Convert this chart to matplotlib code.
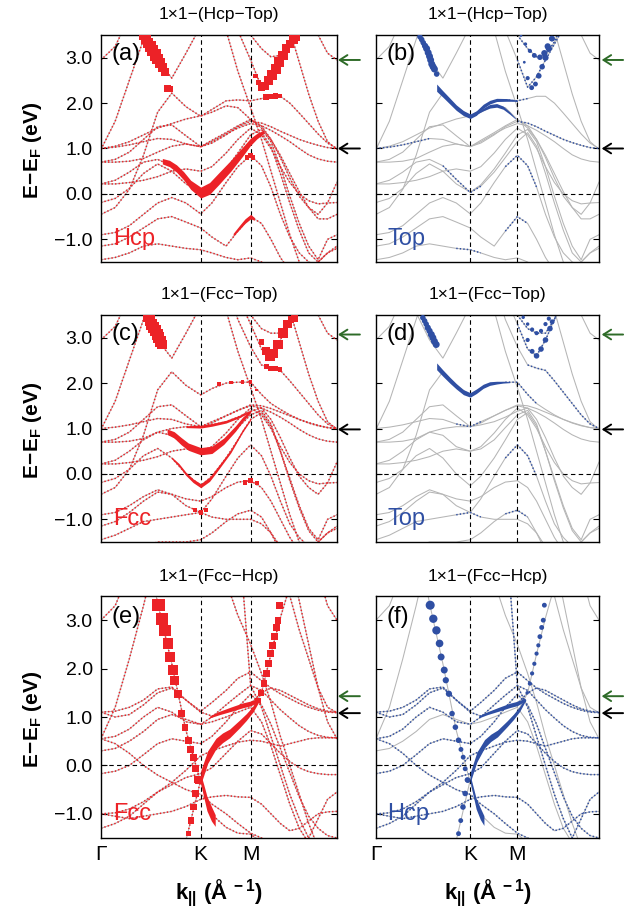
import matplotlib
matplotlib.use('Agg')
import matplotlib.pyplot as plt
import numpy as np

plt.rcParams['font.family'] = ['Liberation Sans', 'DejaVu Sans']
plt.rcParams['mathtext.fontset'] = 'custom'
plt.rcParams['mathtext.rm'] = 'Liberation Sans'
plt.rcParams['mathtext.bf'] = 'Liberation Sans:bold'
plt.rcParams['mathtext.it'] = 'Liberation Sans:italic'
plt.rcParams['mathtext.sf'] = 'Liberation Sans'

# ---------------- k path (fraction of Γ-K-M-Γ path) ----------------
KPTS = [0.0, 0.06, 0.12, 0.18, 0.24, 0.30, 0.36, 0.4226, 0.47, 0.53, 0.58,
        0.634, 0.68, 0.72, 0.76, 0.80, 0.84, 0.88, 0.92, 0.96, 1.0]
HSP_POS = [0.0, 0.4226, 0.634]
HSP_LABELS = ['Γ', 'K', 'M']
YTICKS = [-1.0, 0.0, 1.0, 2.0, 3.0]

# ---------------- band energies (eV) : 1x1-(Hcp-Top) ----------------
BANDS_HT = [
    [2.95, 3.25, 3.9, 4.6, 5, 5, 5, 5, 5, 5, 5, 5, 5, 5, 5, 5, 4.6, 4.0, 3.5, 3.1, 2.95],
    [0.98, 1.6, 2.5, 3.4, 4.3, 5, 5, 5, 5, 5, 5, 5, 5, 5, 4.4, 3.6, 2.9, 2.2, 1.6, 1.15, 0.98],
    [-0.45, -0.3, 0.1, 0.85, 1.8, 2.22, 1.92, 1.71, 1.86, 2.05, 2.07, 2.05, 2.1, 2.15, 2.15, 2.0, 1.78, 1.55, 1.32, 1.12, 1.0],
    [1.0, 1.03, 1.08, 1.15, 1.22, 1.2, 1.1, 1.04, 1.12, 1.3, 1.48, 1.6, 1.56, 1.48, 1.38, 1.29, 1.2, 1.13, 1.07, 1.02, 1.0],
    [0.70, 0.76, 0.92, 1.2, 1.48, 1.52, 1.28, 1.04, 1.15, 1.32, 1.45, 1.55, 1.5, 1.4, 1.28, 1.15, 1.0, 0.86, 0.77, 0.72, 0.70],
    [0.22, 0.3, 0.48, 0.7, 0.76, 0.62, 0.32, 0.03, 0.17, 0.48, 0.8, 1.15, 1.35, 1.05, 0.45, -0.2, -0.8, -1.3, -1.5, -1.3, -1.15],
    [-0.19, -0.1, 0.12, 0.45, 0.66, 0.5, 0.22, 0.04, 0.2, 0.55, 0.9, 1.3, 1.42, 1.15, 0.6, -0.05, -0.65, -1.15, -1.45, -1.0, -0.9],
    [-0.9, -0.85, -0.7, -0.45, -0.2, -0.08, -0.2, -0.44, -0.2, 0.25, 0.6, 0.85, 0.62, 0.15, -0.45, -0.95, -1.3, -1.5, -1.6, -1.6, -1.6],
    [-1.15, -1.1, -0.95, -0.75, -0.55, -0.5, -0.62, -0.75, -0.95, -1.15, -0.82, -0.5, -0.65, -1.0, -1.4, -1.7, -1.8, -1.7, -1.5, -1.3, -1.2],
    [-1.45, -1.4, -1.3, -1.15, -1.1, -1.15, -1.2, -1.23, -1.3, -1.4, -1.45, -1.41, -1.5, -1.7, -1.9, -2, -2, -2, -2, -2, -2],
    [0.7, 0.7, 0.72, 0.78, 0.92, 1.05, 1.1, 1.04, 1.18, 1.35, 1.5, 1.64, 1.5, 1.2, 0.8, 0.35, -0.05, -0.3, -0.45, -0.2, 0.26],
    [0.22, 0.22, 0.25, 0.3, 0.38, 0.5, 0.55, 0.5, 0.6, 0.9, 1.2, 1.45, 1.3, 1.0, 0.6, 0.25, 0.0, -0.15, -0.22, -0.2, -0.19],
    [5, 5, 5, 5, 5, 5, 5, 5, 5, 4.5, 3.6, 2.95, 2.35, 2.58, 2.95, 3.3, 3.65, 4.1, 5, 5, 5],
    [5, 5, 5, 5, 5, 5, 5, 5, 5, 5, 4.3, 3.5, 3.2, 3.02, 3.05, 3.35, 3.8, 4.4, 5, 5, 5],
    [5, 5, 4.6, 3.55, 2.95, 2.55, 3.1, 3.7, 4.3, 5, 5, 5, 5, 5, 5, 5, 5, 5, 5, 5, 5],
    [5, 5, 5, 5, 5, 5, 5, 5, 4.5, 3.6, 2.7, 1.9, 1.2, 0.5, -0.2, -0.9, -1.5, -2, -2, -2, -2],
    [1.0, 1.05, 1.15, 1.3, 1.45, 1.55, 1.65, 1.72, 1.8, 1.94, 1.9, 1.64, 1.45, 1.2, 0.85, 0.45, 0.05, -0.3, -0.55, -0.55, -0.45],
]

# ---------------- band energies (eV) : 1x1-(Fcc-Top) ----------------
BANDS_FT = [
    [2.95, 3.25, 3.9, 4.6, 5, 5, 5, 5, 5, 5, 5, 5, 5, 5, 5, 5, 4.6, 4.0, 3.5, 3.1, 2.95],
    [0.98, 1.6, 2.5, 3.4, 4.3, 5, 5, 5, 5, 5, 5, 5, 5, 5, 4.4, 3.6, 2.9, 2.2, 1.6, 1.15, 0.98],
    [-0.45, -0.3, 0.1, 0.85, 1.85, 2.25, 1.95, 1.74, 1.88, 2.0, 2.02, 2.02, 1.75, 1.55, 1.42, 1.3, 1.2, 1.12, 1.06, 1.02, 1.0],
    [1.0, 1.03, 1.08, 1.15, 1.22, 1.2, 1.1, 1.04, 1.15, 1.28, 1.4, 1.52, 1.5, 1.44, 1.36, 1.28, 1.2, 1.13, 1.07, 1.02, 1.0],
    [0.70, 0.76, 0.92, 1.2, 1.48, 1.52, 1.28, 1.04, 1.12, 1.28, 1.4, 1.5, 1.45, 1.36, 1.25, 1.12, 0.98, 0.86, 0.77, 0.72, 0.70],
    [0.22, 0.3, 0.5, 0.75, 0.92, 0.85, 0.6, 0.5, 0.55, 0.75, 1.02, 1.3, 1.4, 1.1, 0.5, -0.15, -0.75, -1.25, -1.5, -1.3, -1.15],
    [-0.19, -0.1, 0.1, 0.4, 0.56, 0.35, 0.0, -0.26, -0.05, 0.35, 0.75, 1.2, 1.35, 1.05, 0.5, -0.1, -0.7, -1.2, -1.45, -1.0, -0.9],
    [-0.9, -0.85, -0.7, -0.5, -0.35, -0.45, -0.7, -0.85, -0.55, -0.05, 0.35, 0.64, 0.4, -0.05, -0.6, -1.1, -1.4, -1.6, -1.6, -1.6, -1.6],
    [-1.15, -1.05, -0.85, -0.6, -0.4, -0.45, -0.55, -0.6, -0.5, -0.3, -0.18, -0.15, -0.3, -0.6, -1.0, -1.4, -1.7, -1.7, -1.5, -1.3, -1.2],
    [-1.45, -1.35, -1.2, -1.05, -1.0, -0.95, -0.9, -0.85, -0.95, -1.0, -1.0, -1.0, -1.1, -1.3, -1.6, -2, -2, -2, -2, -2, -2],
    [-2, -2, -1.8, -1.6, -1.5, -1.5, -1.5, -1.45, -1.3, -1.05, -0.88, -0.8, -0.95, -1.3, -1.7, -2, -2, -2, -2, -2, -2],
    [0.7, 0.7, 0.72, 0.78, 0.92, 1.0, 1.04, 1.04, 1.08, 1.15, 1.25, 1.38, 1.45, 1.2, 0.8, 0.35, -0.05, -0.3, -0.45, -0.2, 0.26],
    [0.22, 0.22, 0.25, 0.3, 0.38, 0.5, 0.55, 0.5, 0.6, 0.9, 1.2, 1.45, 1.3, 1.0, 0.6, 0.25, 0.0, -0.15, -0.22, -0.2, -0.19],
    [5, 5, 5, 5, 5, 5, 5, 5, 5, 4.6, 3.9, 3.3, 2.75, 2.6, 2.95, 3.4, 3.9, 4.4, 5, 5, 5],
    [5, 5, 5, 5, 5, 5, 5, 5, 5, 5, 4.3, 3.5, 3.2, 3.1, 3.1, 3.4, 3.9, 4.4, 5, 5, 5],
    [5, 5, 4.6, 3.55, 2.95, 2.55, 3.1, 3.7, 4.3, 5, 5, 5, 5, 5, 5, 5, 5, 5, 5, 5, 5],
    [5, 5, 5, 5, 5, 5, 5, 5, 4.5, 3.6, 2.7, 1.9, 1.2, 0.5, -0.2, -0.9, -1.5, -2, -2, -2, -2],
    [5, 5, 5, 5, 5, 5, 5, 5, 5, 4.2, 3.4, 2.8, 2.4, 2.33, 2.28, 2.05, 1.8, 1.55, 1.3, 1.1, 1.0],
]

# ---------------- band energies (eV) : 1x1-(Fcc-Hcp) ----------------
BANDS_FH = [
    [5, 5, 5, 4.8, 3.35, 2.1, 0.72, -0.35, -1.02, -1.28, -1.4, -1.42, -1.6, -2, -2, -2, -2, -2, -2, -2, -2],
    [-3, -3, -3, -3, -3, -2.8, -1.55, -0.3, 0.3, 0.62, 0.83, 1.1, 1.5, 2.3, 3.05, 3.7, 4.5, 5, 5, 5, 5],
    [1.1, 1.0, 1.05, 1.25, 1.5, 1.6, 1.35, 1.1, 1.02, 1.12, 1.2, 1.28, 1.5, 1.6, 1.55, 1.45, 1.35, 1.25, 1.17, 1.12, 1.1],
    [1.1, 1.12, 1.2, 1.35, 1.58, 1.62, 1.35, 1.12, 1.3, 1.55, 1.8, 1.93, 1.75, 1.6, 1.48, 1.38, 1.28, 1.2, 1.14, 1.1, 1.09],
    [0.55, 0.6, 0.75, 1.0, 1.2, 1.1, 0.9, 0.85, 1.0, 1.25, 1.45, 1.65, 1.55, 1.35, 1.15, 0.98, 0.82, 0.7, 0.62, 0.58, 0.57],
    [-0.17, -0.12, 0.0, 0.22, 0.45, 0.55, 0.5, 0.45, 0.6, 0.9, 1.2, 1.47, 1.25, 0.85, 0.35, -0.15, -0.65, -1.05, -1.3, -1.45, -1.5],
    [-1.0, -0.98, -0.9, -0.75, -0.55, -0.4, -0.25, -0.17, -0.05, 0.25, 0.5, 0.72, 0.65, 0.45, 0.25, 0.08, -0.05, -0.13, -0.17, -0.19, -0.19],
    [-1.3, -1.2, -1.05, -0.8, -0.55, -0.35, -0.1, 0.2, 0.3, 0.4, 0.48, 0.52, 0.5, 0.45, 0.4, 0.45, 0.5, 0.55, 0.57, 0.57, 0.57],
    [-1.0, -1.05, -1.1, -1.05, -1.0, -0.95, -0.85, -0.7, -0.65, -0.62, -0.65, -0.66, -0.8, -1.0, -1.2, -1.35, -1.3, -1.15, -1.0, -0.96, -0.95],
    [0.55, 0.45, 0.25, 0.0, -0.2, -0.35, -0.5, -0.6, -0.8, -1.0, -1.2, -1.4, -1.5, -1.6, -1.7, -1.8, -1.7, -1.5, -1.1, -0.7, -0.55],
    [3.0, 3.3, 4.0, 5, 5, 5, 5, 5, 5, 5, 5, 5, 5, 5, 5, 5, 5, 5, 4.0, 3.3, 3.0],
    [0.55, 1.2, 2.2, 3.3, 4.5, 5, 5, 5, 5, 5, 5, 5, 5, 5, 5, 4.3, 3.4, 2.5, 1.6, 0.9, 0.55],
    [5, 5, 5, 5, 5, 5, 5, 5, 4.6, 3.8, 3.1, 2.5, 1.9, 1.3, 0.6, 0.0, -0.6, -1.2, -1.7, -2, -2],
    [5, 5, 5, 5, 5, 5, 5, 5, 5, 5, 5, 5, 5, 4.8, 4.2, 3.5, 2.8, 2.2, 1.6, 1.2, 1.09],
    [5, 5, 5, 5, 5, 5, 5, 5, 5, 5, 5, 1.65, 1.2, 0.6, 0.0, -0.6, -1.1, -1.5, -1.7, -2, -2],
    [0.3, 0.35, 0.5, 0.7, 0.95, 1.05, 0.95, 0.85, 0.9, 1.0, 1.1, 1.2, 0.9, 0.4, -0.2, -0.8, -1.3, -1.6, -1.8, -2, -2],
]

# ---------------- fat-band weights (projections) ----------------
# panel (a): Hcp projection on Hcp-Top
A_RIB_K = [0.26, 0.29, 0.32, 0.35, 0.38, 0.4226, 0.46, 0.50, 0.55, 0.60, 0.634, 0.66, 0.69]
A_RIB_E = [0.72, 0.67, 0.56, 0.40, 0.20, 0.03, 0.12, 0.34, 0.62, 0.93, 1.15, 1.27, 1.37]
A_RIB_W = [0.06, 0.07, 0.08, 0.09, 0.10, 0.12, 0.13, 0.13, 0.12, 0.10, 0.08, 0.06, 0.04]
A_LOW_K = [0.56, 0.59, 0.61, 0.634, 0.65]
A_LOW_E = [-0.9, -0.72, -0.6, -0.5, -0.55]
A_LOW_W = [0.03, 0.045, 0.05, 0.05, 0.03]
A_STEEP_K = [0.18, 0.19, 0.20, 0.21, 0.22, 0.23, 0.24, 0.25, 0.26, 0.27, 0.282, 0.29]
A_STEEP_E = [3.5, 3.41, 3.33, 3.25, 3.16, 3.06, 2.97, 2.88, 2.78, 2.69, 2.33, 2.31]
A_STEEP_S = [7, 7, 7.5, 8, 8, 8, 7.5, 7, 6.5, 5.5, 5, 4.5]
A_V_K = [0.655, 0.668, 0.681, 0.695, 0.71, 0.725, 0.74, 0.755, 0.77, 0.785, 0.80, 0.815, 0.83]
A_V_E = [2.6, 2.45, 2.35, 2.38, 2.5, 2.62, 2.75, 2.9, 3.05, 3.2, 3.3, 3.4, 3.45]
A_V_S = [3, 4, 5, 6, 6, 7, 7, 7, 7, 6, 6, 6, 5]
A_SS_K = [0.70, 0.72, 0.74, 0.76, 0.62, 0.634, 0.645]
A_SS_E = [2.13, 2.15, 2.16, 2.15, 0.8, 0.85, 0.8]
A_SS_S = [4, 4, 4, 3, 3, 3.5, 3]

# panel (b): Top projection on Hcp-Top
B_RIB_K = [0.272, 0.30, 0.332, 0.36, 0.392, 0.4226, 0.45, 0.481, 0.51, 0.541, 0.586, 0.616, 0.634]
B_RIB_E = [2.34, 2.2, 2.04, 1.9, 1.78, 1.71, 1.78, 1.93, 2.02, 2.07, 2.07, 2.06, 2.05]
B_RIB_W = [0.08, 0.07, 0.065, 0.06, 0.055, 0.05, 0.05, 0.045, 0.04, 0.035, 0.03, 0.02, 0.015]
B_RIB2_K = [0.45, 0.481, 0.51, 0.541, 0.57, 0.60, 0.625]
B_RIB2_E = [1.76, 1.86, 1.93, 1.95, 1.9, 1.78, 1.66]
B_RIB2_W = [0.01, 0.03, 0.04, 0.04, 0.035, 0.025, 0.01]
B_STEEP_K = [0.197, 0.205, 0.212, 0.22, 0.227, 0.234, 0.24, 0.245, 0.25, 0.256, 0.262, 0.272]
B_STEEP_E = [3.46, 3.4, 3.33, 3.26, 3.2, 3.11, 3.03, 2.95, 2.86, 2.8, 2.75, 2.64]
B_STEEP_S = [4, 4, 4, 4.5, 5, 5, 5, 5, 5, 5, 5, 4]
B_V1_K = [0.665, 0.68, 0.698, 0.715, 0.73, 0.745, 0.76, 0.775, 0.79]
B_V1_E = [2.9, 2.55, 2.34, 2.42, 2.6, 2.8, 3.0, 3.2, 3.42]
B_V1_S = [2, 3, 3.5, 3.5, 4, 4, 4.5, 4.5, 4]
B_V2_K = [0.65, 0.67, 0.69, 0.71, 0.735, 0.755, 0.77, 0.788]
B_V2_E = [3.49, 3.3, 3.15, 3.05, 3.01, 3.1, 3.25, 3.42]
B_V2_S = [2, 2.5, 3, 3.5, 4, 4.5, 4.5, 4]

# panel (c): Fcc projection on Fcc-Top
C_STEEP_K = [0.20, 0.208, 0.215, 0.222, 0.23, 0.238, 0.245, 0.252, 0.26]
C_STEEP_E = [3.45, 3.38, 3.3, 3.22, 3.15, 3.08, 3.0, 2.92, 2.85]
C_STEEP_S = [7, 7.5, 8, 8, 8, 8, 8, 7.5, 7]
C_U_K = [0.28, 0.31, 0.34, 0.37, 0.4226, 0.47, 0.52, 0.57, 0.60, 0.634]
C_U_E = [0.93, 0.86, 0.72, 0.6, 0.5, 0.53, 0.72, 1.0, 1.2, 1.38]
C_U_W = [0.06, 0.07, 0.08, 0.08, 0.08, 0.08, 0.07, 0.06, 0.05, 0.03]
C_VV_K = [0.30, 0.33, 0.36, 0.39, 0.4226, 0.46, 0.50, 0.55, 0.60, 0.634]
C_VV_E = [0.35, 0.2, 0.0, -0.15, -0.26, -0.12, 0.15, 0.5, 0.95, 1.2]
C_VV_W = [0.02, 0.03, 0.035, 0.04, 0.045, 0.045, 0.04, 0.035, 0.03, 0.02]
C_K1_K = [0.36, 0.4226, 0.47, 0.53, 0.58, 0.634]
C_K1_E = [1.04, 1.04, 1.08, 1.15, 1.25, 1.38]
C_K1_W = [0.02, 0.03, 0.03, 0.03, 0.025, 0.02]
C_PTS_K = [0.5, 0.55, 0.60, 0.634, 0.66, 0.70, 0.72, 0.74, 0.76, 0.61, 0.634, 0.66, 0.40, 0.4226, 0.445]
C_PTS_E = [1.98, 2.01, 2.02, 2.02, 1.85, 2.36, 2.33, 2.32, 2.3, -0.18, -0.15, -0.2, -0.8, -0.85, -0.8]
C_PTS_S = [2.5, 2.5, 2.5, 2.5, 2, 3.5, 3.5, 3.5, 3, 3.5, 3.5, 3, 3, 3, 3]
C_V_K = [0.68, 0.70, 0.716, 0.73, 0.75, 0.77, 0.79, 0.805, 0.82]
C_V_E = [2.9, 2.7, 2.6, 2.65, 2.85, 3.1, 3.3, 3.4, 3.42]
C_V_S = [4, 6, 7, 7, 7, 7, 6, 5, 5]

# panel (d): Top projection on Fcc-Top
D_RIB_K = [0.272, 0.30, 0.332, 0.36, 0.392, 0.4226, 0.45, 0.481, 0.51, 0.541, 0.57, 0.60]
D_RIB_E = [2.37, 2.22, 2.06, 1.93, 1.8, 1.74, 1.82, 1.93, 1.99, 2.01, 2.02, 2.02]
D_RIB_W = [0.075, 0.07, 0.065, 0.06, 0.055, 0.05, 0.05, 0.045, 0.04, 0.03, 0.02, 0.01]
D_STEEP_K = [0.21, 0.218, 0.225, 0.232, 0.24, 0.248, 0.255, 0.262, 0.27]
D_STEEP_E = [3.44, 3.37, 3.3, 3.22, 3.15, 3.07, 3.0, 2.92, 2.85]
D_STEEP_S = [4, 4, 4, 4.5, 4.5, 5, 5, 5, 5]
D_V1_K = [0.68, 0.70, 0.72, 0.74, 0.76, 0.78, 0.79]
D_V1_E = [2.95, 2.7, 2.6, 2.75, 2.95, 3.2, 3.35]
D_V1_S = [3, 3.5, 4, 4, 4, 4, 3.5]
D_V2_K = [0.66, 0.68, 0.70, 0.72, 0.74, 0.76, 0.775]
D_V2_E = [3.45, 3.3, 3.18, 3.1, 3.15, 3.3, 3.42]
D_V2_S = [2.5, 2.5, 3, 3, 3, 3, 3]

# panels (e)/(f): Fcc-Hcp
EF_STEEP_K = [0.243, 0.257, 0.271, 0.285, 0.292, 0.306, 0.313, 0.327, 0.341, 0.356, 0.37, 0.381, 0.391, 0.40, 0.412]
EF_STEEP_E = [3.31, 3.03, 2.79, 2.52, 2.24, 1.97, 1.76, 1.48, 1.07, 0.79, 0.52, 0.33, 0.17, -0.07, -0.31]
E_STEEP_S = [9, 8.5, 8, 7.5, 7, 7, 6.5, 6, 5.5, 5, 5, 5, 5, 5, 5]
F_STEEP_S = [6.5, 6, 6, 5.5, 5, 5, 4.5, 4.5, 4, 4, 4, 3.5, 3.5, 3.5, 3.5]
EF_DOWN_K = [0.41, 0.40, 0.39, 0.38, 0.37]
EF_DOWN_E = [-0.3, -0.58, -0.86, -1.14, -1.41]
E_DOWN_S = [5, 5, 5, 4.5, 4]
F_DOWN_S = [4, 4, 4, 3.5, 3.5]
EF_RIB_K = [0.4226, 0.452, 0.487, 0.515, 0.545, 0.588, 0.616, 0.645, 0.666]
EF_RIB_E = [-0.25, 0.17, 0.45, 0.57, 0.66, 0.86, 1.0, 1.17, 1.34]
E_RIB_W = [0.14, 0.13, 0.11, 0.10, 0.09, 0.08, 0.07, 0.06, 0.05]
F_RIB_W = [0.10, 0.10, 0.085, 0.075, 0.07, 0.06, 0.055, 0.05, 0.04]
EF_BOT_K = [0.4226, 0.435, 0.449, 0.468, 0.484]
EF_BOT_E = [-0.28, -0.52, -0.79, -1.0, -1.14]
E_BOT_W = [0.10, 0.13, 0.15, 0.15, 0.12]
F_BOT_W = [0.07, 0.09, 0.11, 0.12, 0.10]
EF_UP_K = [0.46, 0.50, 0.55, 0.60, 0.634, 0.66]
EF_UP_E = [1.0, 1.08, 1.16, 1.24, 1.28, 1.34]
E_UP_W = [0.02, 0.035, 0.045, 0.05, 0.05, 0.04]
F_UP_W = [0.02, 0.03, 0.04, 0.045, 0.045, 0.035]
EF_RISE_K = [0.666, 0.678, 0.69, 0.70, 0.71, 0.72, 0.728, 0.735, 0.743, 0.75, 0.755]
EF_RISE_E = [1.34, 1.5, 1.69, 1.9, 2.1, 2.31, 2.48, 2.66, 2.85, 3.0, 3.31]
E_RISE_S = [4, 4.5, 4.5, 5, 5, 5, 5, 5, 5, 5, 5]
F_RISE_S = [2.5, 2.5, 3, 3, 3, 3, 3, 3.5, 3.5, 3.5, 3.5]

# which bands carry small dotted projection (band index, k from, k to)
DOTS_B = [(3, 0.0, 0.24), (3, 0.634, 1.0), (2, 0.58, 0.68), (7, 0.58, 0.72),
          (8, 0.58, 0.68), (9, 0.36, 0.47), (5, 0.30, 0.47), (12, 0.634, 0.88), (13, 0.634, 0.88)]
DOTS_D = [(17, 0.68, 1.0), (2, 0.58, 0.72), (7, 0.58, 0.72), (10, 0.58, 0.68),
          (9, 0.36, 0.47), (13, 0.634, 0.88), (14, 0.634, 0.88), (3, 0.36, 0.47)]
DOTS_F = [(i, 0.0, 1.0) for i in (2, 3, 4, 5, 6, 7, 8, 9, 14)]

RED = '#ec2227'
BLUE = '#2f4fa3'
GRAY = '#b5b5b5'
GREEN = '#2e6b28'

fig = plt.figure(figsize=(6.32, 9.17), dpi=100)
W, H = 632.0, 917.0
COLS = [(101, 236), (376, 223)]
ROWS = [(35, 227), (315, 227), (596, 242)]


def add_axes(col, row):
    x0, w = COLS[col]
    y0, h = ROWS[row]
    return fig.add_axes([x0 / W, 1 - (y0 + h) / H, w / W, h / H])


def ribbon(ax, k, e, w, color):
    e = np.array(e); w = np.array(w)
    ax.fill_between(k, e - w, e + w, color=color, lw=0, zorder=4)


def markers(ax, k, e, s, color, marker):
    ax.scatter(k, e, s=np.array(s) ** 2, marker=marker, color=color, lw=0, zorder=5)


panels = [
    dict(col=0, row=0, bands=BANDS_HT, color=RED, dots='all', tag='(a)', lab='Hcp',
         title='1×1−(Hcp−Top)', arrows=(2.95, 1.0)),
    dict(col=1, row=0, bands=BANDS_HT, color=BLUE, dots=DOTS_B, tag='(b)', lab='Top',
         title='1×1−(Hcp−Top)', arrows=(2.95, 1.0)),
    dict(col=0, row=1, bands=BANDS_FT, color=RED, dots='all', tag='(c)', lab='Fcc',
         title='1×1−(Fcc−Top)', arrows=(3.07, 0.98)),
    dict(col=1, row=1, bands=BANDS_FT, color=BLUE, dots=DOTS_D, tag='(d)', lab='Top',
         title='1×1−(Fcc−Top)', arrows=(3.07, 0.98)),
    dict(col=0, row=2, bands=BANDS_FH, color=RED, dots='all', tag='(e)', lab='Fcc',
         title='1×1−(Fcc−Hcp)', arrows=(1.43, 1.08)),
    dict(col=1, row=2, bands=BANDS_FH, color=BLUE, dots=DOTS_F, tag='(f)', lab='Hcp',
         title='1×1−(Fcc−Hcp)', arrows=(1.43, 1.08)),
]

axes = []
for p in panels:
    ax = add_axes(p['col'], p['row'])
    axes.append(ax)
    c = p['color']
    for b in p['bands']:
        ax.plot(KPTS, b, color=GRAY, lw=0.75, zorder=1)
    if p['dots'] == 'all':
        sel = [(i, 0.0, 1.0) for i in range(len(p['bands']))]
    else:
        sel = p['dots']
    for (i, k0, k1) in sel:
        idx = [j for j, kk in enumerate(KPTS) if k0 - 1e-6 <= kk <= k1 + 1e-6]
        ax.plot([KPTS[j] for j in idx], [p['bands'][i][j] for j in idx], color=c,
                lw=1.1, ls=(0, (0.9, 1.4)), zorder=2)
    ax.axvline(HSP_POS[1], color='black', lw=0.8, ls=(0, (4, 3)), zorder=3)
    ax.axvline(HSP_POS[2], color='black', lw=0.8, ls=(0, (4, 3)), zorder=3)
    ax.axhline(0.0, color='black', lw=0.8, ls=(0, (4, 3)), zorder=3)
    ax.set_xlim(0, 1)
    ax.set_ylim(-1.5, 3.5)
    ax.set_yticks(YTICKS)
    ax.tick_params(axis='y', direction='in', right=True, length=4, width=0.8,
                   labelsize=14, pad=6)
    if p['col'] == 1:
        ax.tick_params(axis='y', labelleft=False)
    else:
        ax.set_yticklabels([f'{v:.1f}'.replace('-', '\u2212') for v in YTICKS])
        ax.set_ylabel(r'$\mathbf{E\!-\!E_{F}}$ $\mathbf{(eV)}$', fontsize=15)
        ax.yaxis.set_label_coords(-0.242, 0.49)
    if p['row'] == 2:
        ax.set_xticks(HSP_POS)
        ax.set_xticklabels(HSP_LABELS, fontsize=15)
        ax.tick_params(axis='x', length=0, pad=5)
        ax.text(0.5, -0.225, r'$\mathbf{k_{||}}$ $\mathbf{(\AA^{\ -1})}$', transform=ax.transAxes,
                ha='center', va='center', fontsize=16)
    else:
        ax.set_xticks([])
    for s in ax.spines.values():
        s.set_linewidth(1.0)
    h = ROWS[p['row']][1]
    ax.text(0.5, 1 + 20.0 / h, p['title'], transform=ax.transAxes, ha='center',
            va='center', fontsize=12.5)
    ax.text(0.045, 0.915, p['tag'], transform=ax.transAxes, ha='left', va='center',
            fontsize=17, zorder=6)
    ax.text(0.05, 0.10, p['lab'], transform=ax.transAxes, ha='left', va='center',
            fontsize=17, color=c, zorder=6)
    # arrows
    x_head = 1.004 if p['col'] == 0 else 1.012
    x_tail = 1.097 if p['col'] == 0 else 1.108
    for yv, ac in zip(p['arrows'], (GREEN, 'black')):
        ax.annotate('', xy=(x_head, yv), xycoords=ax.get_yaxis_transform(),
                    xytext=(x_tail, yv), textcoords=ax.get_yaxis_transform(),
                    arrowprops=dict(arrowstyle='->,head_length=0.55,head_width=0.35',
                                    color=ac, lw=1.4, shrinkA=0, shrinkB=0),
                    annotation_clip=False)

ax_a, ax_b, ax_c, ax_d, ax_e, ax_f = axes

# (a)
ribbon(ax_a, A_RIB_K, A_RIB_E, A_RIB_W, RED)
ribbon(ax_a, A_LOW_K, A_LOW_E, A_LOW_W, RED)
markers(ax_a, A_STEEP_K, A_STEEP_E, A_STEEP_S, RED, 's')
markers(ax_a, A_V_K, A_V_E, A_V_S, RED, 's')
markers(ax_a, A_SS_K, A_SS_E, A_SS_S, RED, 's')
# (b)
ribbon(ax_b, B_RIB_K, B_RIB_E, B_RIB_W, BLUE)
ribbon(ax_b, B_RIB2_K, B_RIB2_E, B_RIB2_W, BLUE)
markers(ax_b, B_STEEP_K, B_STEEP_E, B_STEEP_S, BLUE, 'o')
markers(ax_b, B_V1_K, B_V1_E, B_V1_S, BLUE, 'o')
markers(ax_b, B_V2_K, B_V2_E, B_V2_S, BLUE, 'o')
# (c)
markers(ax_c, C_STEEP_K, C_STEEP_E, C_STEEP_S, RED, 's')
ribbon(ax_c, C_U_K, C_U_E, C_U_W, RED)
ribbon(ax_c, C_VV_K, C_VV_E, C_VV_W, RED)
ribbon(ax_c, C_K1_K, C_K1_E, C_K1_W, RED)
markers(ax_c, C_PTS_K, C_PTS_E, C_PTS_S, RED, 's')
markers(ax_c, C_V_K, C_V_E, C_V_S, RED, 's')
# (d)
ribbon(ax_d, D_RIB_K, D_RIB_E, D_RIB_W, BLUE)
markers(ax_d, D_STEEP_K, D_STEEP_E, D_STEEP_S, BLUE, 'o')
markers(ax_d, D_V1_K, D_V1_E, D_V1_S, BLUE, 'o')
markers(ax_d, D_V2_K, D_V2_E, D_V2_S, BLUE, 'o')
# (e)
markers(ax_e, EF_STEEP_K, EF_STEEP_E, E_STEEP_S, RED, 's')
markers(ax_e, EF_DOWN_K, EF_DOWN_E, E_DOWN_S, RED, 's')
ribbon(ax_e, EF_RIB_K, EF_RIB_E, E_RIB_W, RED)
ribbon(ax_e, EF_BOT_K, EF_BOT_E, E_BOT_W, RED)
ribbon(ax_e, EF_UP_K, EF_UP_E, E_UP_W, RED)
markers(ax_e, EF_RISE_K, EF_RISE_E, E_RISE_S, RED, 's')
# (f)
markers(ax_f, EF_STEEP_K, EF_STEEP_E, F_STEEP_S, BLUE, 'o')
markers(ax_f, EF_DOWN_K, EF_DOWN_E, F_DOWN_S, BLUE, 'o')
ribbon(ax_f, EF_RIB_K, EF_RIB_E, F_RIB_W, BLUE)
ribbon(ax_f, EF_BOT_K, EF_BOT_E, F_BOT_W, BLUE)
ribbon(ax_f, EF_UP_K, EF_UP_E, F_UP_W, BLUE)
markers(ax_f, EF_RISE_K, EF_RISE_E, F_RISE_S, BLUE, 'o')

fig.savefig('out.png', dpi=100)
